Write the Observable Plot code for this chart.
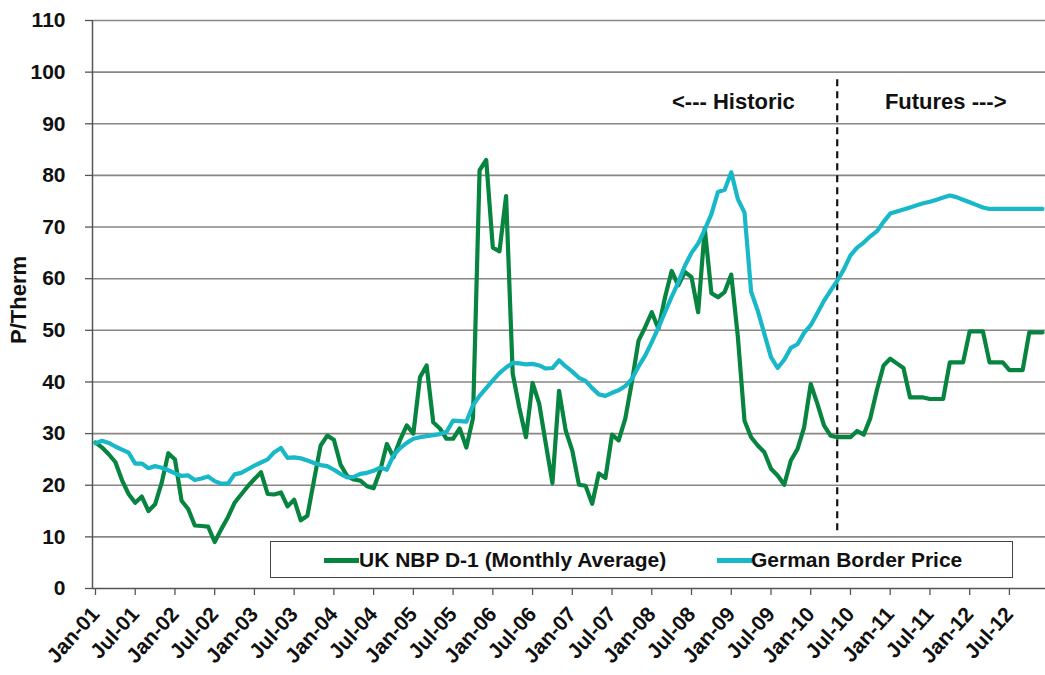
<!DOCTYPE html>
<html>
<head>
<meta charset="utf-8">
<script src="https://cdn.jsdelivr.net/npm/d3@7"></script>
<script src="https://cdn.jsdelivr.net/npm/@observablehq/plot@0.6"></script>
<style>
  html, body { margin: 0; padding: 0; background: #fff; }
  #wrap { position: relative; width: 1045px; height: 675px; font-family: "Liberation Sans", Arial, sans-serif; }
  #wrap svg text { font-family: "Liberation Sans", Arial, sans-serif; font-weight: bold; fill: #111; }
  #legend { position: absolute; left: 270px; top: 541px; width: 741px; height: 35px; background: #fff; border: 1.5px solid #444; box-sizing: content-box; }
  #legend .sw { position: absolute; top: 16px; height: 5px; width: 35px; }
  #legend .lb { position: absolute; top: 5px; font-size: 21px; font-weight: bold; color: #111; white-space: nowrap; line-height: 25px; }
  #ylabel { position: absolute; left: 19px; top: 300px; transform: translate(-50%, -50%) rotate(-90deg); font-size: 22px; font-weight: bold; color: #111; white-space: nowrap; line-height: 24px; }
</style>
</head>
<body>
<div id="wrap"></div>
<script>
// ---- data (monthly, Jan-01 .. Dec-12) ----
const tickLabels = ["Jan-01","Jul-01","Jan-02","Jul-02","Jan-03","Jul-03","Jan-04","Jul-04","Jan-05","Jul-05","Jan-06","Jul-06","Jan-07","Jul-07","Jan-08","Jul-08","Jan-09","Jul-09","Jan-10","Jul-10","Jan-11","Jul-11","Jan-12","Jul-12"];

const seriesNames = ["UK NBP D-1 (Monthly Average)", "German Border Price"];
const seriesColors = ["#07843f", "#19b8c9"];
const yLabel = "P/Therm";

const nbp = [
  28.3, 27.3, 26, 24.5, 21, 18.3, 16.6, 17.8, 15, 16.3, 20.5, 26.2,
  25, 17, 15.4, 12.2, 12.1, 12, 9, 11.5, 13.8, 16.6, 18.2, 19.8,
  21.2, 22.5, 18.3, 18.2, 18.6, 15.9, 17.2, 13.2, 14.1, 21, 27.7, 29.6,
  28.8, 24, 21.8, 21.1, 20.9, 19.8, 19.4, 22.9, 28, 25.4, 28.8, 31.6,
  30, 40.9, 43.2, 32.2, 31, 29, 29, 31, 27.3, 33, 81, 83,
  66, 65.3, 76, 41.6, 35, 29.3, 39.8, 35.8, 28, 20.4, 38.3, 30.6,
  26.7, 20.1, 19.9, 16.4, 22.3, 21.4, 29.8, 28.7, 32.9, 40, 48, 50.6,
  53.5, 50.3, 56.4, 61.5, 58.7, 61.3, 60.3, 53.5, 69.7, 57.2, 56.4, 57.4,
  60.8, 48.7, 32.5, 29.3, 27.7, 26.4, 23.2, 21.9, 20.1, 24.8, 27, 31.2,
  39.6, 35.8, 31.6, 29.6, 29.3, 29.3, 29.3, 30.5, 29.8, 33, 38.5, 43.2,
  44.5, 43.6, 42.7, 37, 37, 37, 36.7, 36.7, 36.7, 43.8, 43.8, 43.8,
  49.8, 49.8, 49.8, 43.8, 43.8, 43.8, 42.3, 42.3, 42.3, 49.6, 49.6, 49.6
];

const german = [
  28.1, 28.6, 28.2, 27.5, 26.9, 26.3, 24.2, 24.2, 23.3, 23.7, 23.4, 22.9,
  22.3, 21.8, 21.9, 21, 21.3, 21.7, 20.8, 20.3, 20.3, 22.1, 22.4, 23.1,
  23.8, 24.4, 25, 26.4, 27.2, 25.3, 25.4, 25.2, 24.8, 24.3, 23.9, 23.7,
  23, 22.2, 21.5, 21.6, 22.2, 22.4, 22.8, 23.4, 23, 25.8, 27.2, 28.2,
  29, 29.3, 29.5, 29.7, 29.9, 30.3, 32.5, 32.4, 32.3, 35.5, 37.3, 38.8,
  40.3, 41.7, 42.8, 43.7, 43.6, 43.4, 43.5, 43.2, 42.6, 42.7, 44.2, 43,
  42, 40.8, 40.2, 38.8, 37.6, 37.3, 37.9, 38.4, 39.2, 40.6, 43, 45.1,
  47.7, 50.5, 53.5, 56.5, 59.3, 62.5, 65, 66.8, 69.5, 72.5, 76.8, 77.2,
  80.6, 75.4, 72.8, 57.5, 53.8, 49.3, 44.8, 42.7, 44.3, 46.6, 47.3, 49.5,
  51, 53.3, 55.7, 57.7, 59.6, 61.8, 64.5, 66, 67, 68.2, 69.2, 71,
  72.6, 73, 73.4, 73.8, 74.2, 74.6, 74.9, 75.3, 75.7, 76.1, 75.8, 75.3,
  74.8, 74.3, 73.8, 73.5, 73.5, 73.5, 73.5, 73.5, 73.5, 73.5, 73.5, 73.5
];

// boundary between historic and futures (month index, May-10)
const splitMonth = 112;
const historicNote = [{text: "<--- Historic", x: 105.6, y: 94.2}];
const futuresNote = [{text: "Futures --->", x: 119.2, y: 94.2}];

const yTicks = d3.range(0, 111, 10);
const xTicks = tickLabels.map((_, i) => i * 6);
const xDomain = [-0.45, 143.45];

const chart = Plot.plot({
  width: 1045,
  height: 675,
  marginLeft: 92,
  marginRight: 0,
  marginTop: 20,
  marginBottom: 87,
  style: {fontFamily: "Liberation Sans, Arial, sans-serif", background: "#fff"},
  x: {domain: xDomain},
  y: {domain: [0, 110]},
  marks: [
    Plot.ruleY(yTicks.filter(d => d > 0), {stroke: "#8a8683", strokeWidth: 1.6}),
    Plot.axisY({
      ticks: yTicks, tickSize: 7, tickPadding: 20, fontSize: 21, fontWeight: "bold",
      stroke: "#555", strokeWidth: 1.3, label: null
    }),
    Plot.axisX({
      ticks: xTicks, tickFormat: d => tickLabels[d / 6], tickRotate: -48,
      tickSize: 7, tickPadding: 15, fontSize: 21, fontWeight: "bold",
      stroke: "#555", strokeWidth: 1.3, label: null
    }),
    Plot.ruleX([xDomain[0]], {stroke: "#555", strokeWidth: 1.5}),
    Plot.ruleY([0], {stroke: "#555", strokeWidth: 1.5}),
    Plot.ruleX([splitMonth], {y1: 11.2, y2: 99.4, stroke: "#111", strokeWidth: 2.2, strokeDasharray: "7,5"}),
    Plot.line(nbp, {x: (d, i) => i, y: d => d, stroke: seriesColors[0], strokeWidth: 4.2, strokeLinejoin: "round"}),
    Plot.line(german, {x: (d, i) => i, y: d => d, stroke: seriesColors[1], strokeWidth: 4.2, strokeLinejoin: "round"}),
    Plot.text(historicNote, {x: "x", y: "y", text: "text", textAnchor: "end", fontSize: 22, fontWeight: "bold", fill: "#111"}),
    Plot.text(futuresNote, {x: "x", y: "y", text: "text", textAnchor: "start", fontSize: 22, fontWeight: "bold", fill: "#111"})
  ]
});

const wrap = document.getElementById("wrap");
wrap.appendChild(chart);

// y-axis title
const yl = document.createElement("div");
yl.id = "ylabel";
yl.textContent = yLabel;
wrap.appendChild(yl);

// legend
const legend = document.createElement("div");
legend.id = "legend";
const pos = [[53, 88], [446, 480]];
seriesNames.forEach((name, i) => {
  const sw = document.createElement("span");
  sw.className = "sw";
  sw.style.left = pos[i][0] + "px";
  sw.style.background = seriesColors[i];
  const lb = document.createElement("span");
  lb.className = "lb";
  lb.style.left = pos[i][1] + "px";
  lb.textContent = name;
  legend.appendChild(sw);
  legend.appendChild(lb);
});
wrap.appendChild(legend);
</script>
</body>
</html>
